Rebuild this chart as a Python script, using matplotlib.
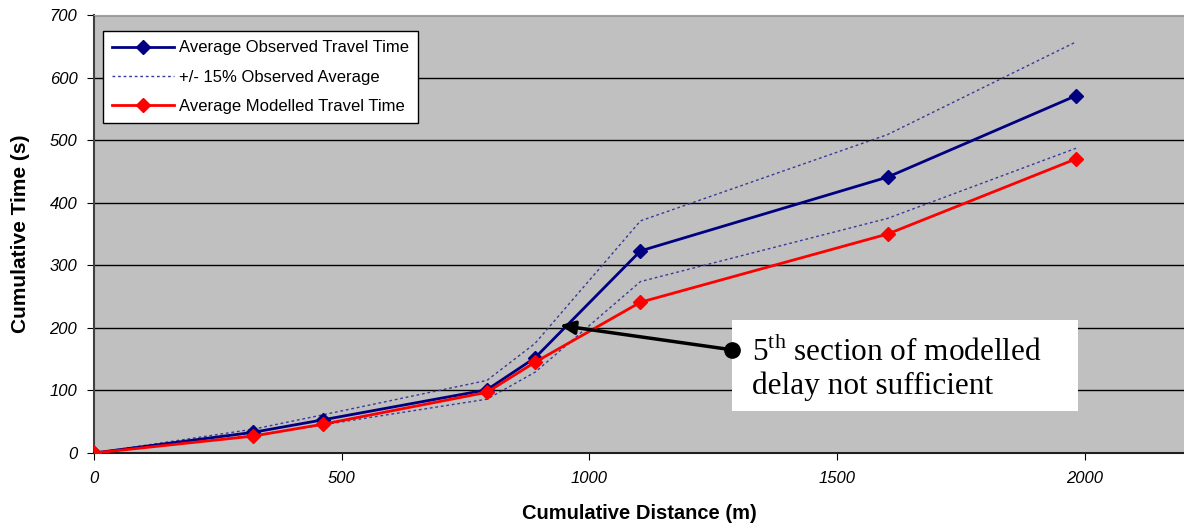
import matplotlib
matplotlib.use("Agg")
import matplotlib.pyplot as plt
from matplotlib.patches import Rectangle

distance = [0, 321, 462, 793, 890, 1103, 1602, 1982]
observed = [0, 33, 53, 101, 152, 323, 441, 571]
upper_15 = [0, 38, 61, 116, 175, 371, 509, 657]
lower_15 = [0, 28, 45, 86, 129, 274, 375, 487]
modelled = [0, 27, 46, 97, 145, 241, 350, 470]

x_ticks = [0, 500, 1000, 1500, 2000]
y_ticks = [0, 100, 200, 300, 400, 500, 600, 700]

plt.rcParams['font.family'] = ['Liberation Sans', 'DejaVu Sans']
plt.rcParams['mathtext.fontset'] = 'custom'
plt.rcParams['mathtext.rm'] = 'Liberation Serif'

fig = plt.figure(figsize=(11.84, 5.24), dpi=100)
ax = fig.add_axes([94/1184, 1 - 453/524, 1 - 94/1184, (453 - 15)/524])
ax.set_facecolor('#C0C0C0')

ax.set_xlim(0, 2200)
ax.set_ylim(0, 700)
ax.set_xticks(x_ticks)
ax.set_yticks(y_ticks)
ax.yaxis.grid(True, color='black', linewidth=1.0)
ax.set_axisbelow(True)

ax.plot(distance, observed, color='#000080', lw=2.0, marker='D', ms=7,
        label='Average Observed Travel Time', zorder=4)
ax.plot(distance, upper_15, color='#3a3a9a', lw=1.0, ls=(0, (2, 2)),
        label='+/- 15% Observed Average', zorder=3)
ax.plot(distance, lower_15, color='#3a3a9a', lw=1.0, ls=(0, (2, 2)), zorder=3)
ax.plot(distance, modelled, color='#FF0000', lw=2.0, marker='D', ms=7,
        label='Average Modelled Travel Time', zorder=5)

for lab in ax.get_xticklabels() + ax.get_yticklabels():
    lab.set_fontstyle('italic')
    lab.set_fontsize(12)
ax.tick_params(axis='both', direction='out', length=5, color='black')
ax.tick_params(axis='x', pad=8)
ax.tick_params(axis='y', pad=7)

ax.spines['right'].set_visible(False)
ax.spines['top'].set_color('#A0A0A0')
ax.spines['left'].set_color('#404040')
ax.spines['left'].set_linewidth(1.5)
ax.spines['bottom'].set_color('#202020')
ax.spines['bottom'].set_linewidth(1.5)

ax.set_xlabel('Cumulative Distance (m)', fontsize=14.5, fontweight='bold', labelpad=13)
ax.set_ylabel('Cumulative Time (s)', fontsize=15, fontweight='bold', labelpad=14)

leg = ax.legend(loc='upper left', bbox_to_anchor=(0.0005, 0.982), fontsize=12,
                frameon=True, fancybox=False, edgecolor='black', framealpha=1,
                handlelength=3.7, handletextpad=0.3, borderpad=0.55,
                labelspacing=0.85)
leg.get_frame().set_linewidth(1.0)

# annotation box
ax.add_patch(Rectangle((1287, 67), 700, 146, facecolor='white',
                       edgecolor='none', zorder=6))
ax.text(1328, 134, '5$^{\\mathrm{th}}$ section of modelled\ndelay not sufficient',
        fontsize=22.5, family='Liberation Serif', va='center', ha='left',
        linespacing=1.15, zorder=7)
ax.annotate('', xy=(940, 204), xytext=(1287, 165),
            arrowprops=dict(arrowstyle='-|>,head_length=0.9,head_width=0.4',
                            color='black', lw=2.5, shrinkA=0, shrinkB=0), zorder=8)
ax.plot([1287], [165], marker='o', color='black', ms=11, zorder=9)

fig.savefig('out.png', dpi=100)
